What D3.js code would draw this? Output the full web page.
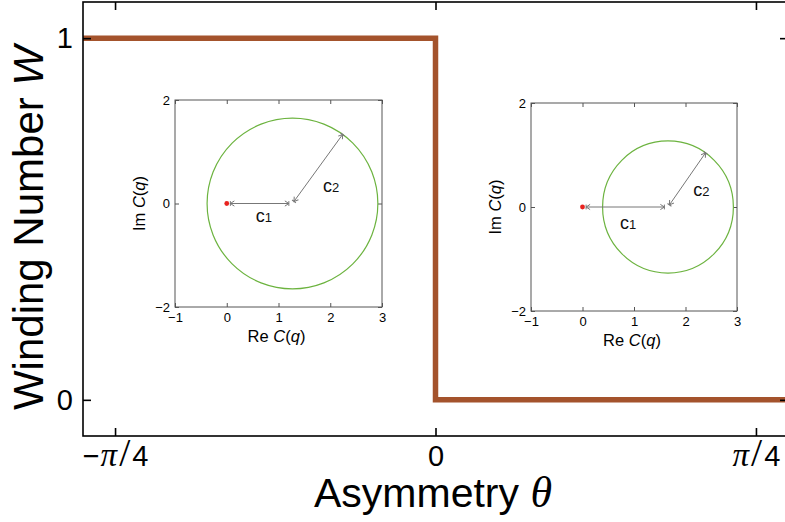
<!DOCTYPE html>
<html>
<head>
<meta charset="utf-8">
<script src="https://cdn.jsdelivr.net/npm/d3@7"></script>
<style>
  body { margin: 0; background: #fff; }
  svg { display: block; }
</style>
</head>
<body>
<svg id="chart" width="785" height="522"></svg>
<script>
// Step curve of the winding number against the asymmetry angle
const stepTheta = [-0.864, 0, 0, 0.864];
const windingW = [1, 1, 0, 0];
const thetaTicks = [-Math.PI / 4, 0, Math.PI / 4];
const wTicks = [0, 1];

// Inset curves C(q) in the complex plane: circle centre on the real axis, radius, c2 direction (deg)
const insetCenterRe = [1.27, 1.66];
const insetRadius = [1.65, 1.27];
const insetC2Angle = [54, 55];
const reTicks = [-1, 0, 1, 2, 3];
const imTicks = [-2, 0, 2];

const svg = d3.select("#chart");
const sans = "'Liberation Sans', Arial, Helvetica, sans-serif";
const serif = "'Liberation Serif', 'Times New Roman', serif";

// ---------- main panel ----------
const frame = { left: 83, top: 2, right: 788, bottom: 436 };
const x = d3.scaleLinear().domain([-1.1 * Math.PI / 4, 1.1 * Math.PI / 4]).range([frame.left, frame.right]);
const y = d3.scaleLinear().domain([-0.1, 1.1]).range([frame.bottom, frame.top]);

const defs = svg.append("defs");
defs.append("clipPath").attr("id", "mainClip")
  .append("rect").attr("x", frame.left).attr("y", frame.top)
  .attr("width", frame.right - frame.left).attr("height", frame.bottom - frame.top);

const stepLine = d3.line().x(d => x(d[0])).y(d => y(d[1]));
svg.append("path")
  .datum(stepTheta.map((t, i) => [t, windingW[i]]))
  .attr("clip-path", "url(#mainClip)")
  .attr("d", stepLine)
  .attr("fill", "none")
  .attr("stroke", "#a4532c")
  .attr("stroke-width", 5.5)
  .attr("stroke-linejoin", "miter");

// Inward ticks on all four sides
const tickLen = 8;
const axB = svg.append("g").attr("transform", `translate(0,${frame.bottom})`)
  .call(d3.axisBottom(x).tickValues(thetaTicks).tickSize(-tickLen).tickPadding(10).tickFormat(""));
const axT = svg.append("g").attr("transform", `translate(0,${frame.top})`)
  .call(d3.axisTop(x).tickValues(thetaTicks).tickSize(-tickLen).tickFormat(""));
const axL = svg.append("g").attr("transform", `translate(${frame.left},0)`)
  .call(d3.axisLeft(y).tickValues(wTicks).tickSize(-tickLen).tickPadding(10).tickFormat(d3.format("d")));
const axR = svg.append("g").attr("transform", `translate(${frame.right},0)`)
  .call(d3.axisRight(y).tickValues(wTicks).tickSize(-tickLen).tickFormat(""));
[axB, axT, axL, axR].forEach(g => {
  g.select(".domain").remove();
  g.selectAll(".tick line").attr("stroke", "#000").attr("stroke-width", 1.6);
});
axL.selectAll(".tick text").attr("font-family", sans).attr("font-size", 29).attr("fill", "#000");

// theta tick labels with math glyphs: [text, font, style, size, dx]
const thetaLabelParts = [
  [["−", sans, "normal", 29, 0], ["π", serif, "italic", 33, 1], ["/", serif, "normal", 40, 2], ["4", sans, "normal", 29, 2]],
  [["0", sans, "normal", 29, 0]],
  [["π", serif, "italic", 33, 0], ["/", serif, "normal", 40, 2], ["4", sans, "normal", 29, 2]]
];
axB.selectAll(".tick").each(function (d, i) {
  const t = d3.select(this).select("text")
    .attr("font-size", 29).attr("fill", "#000").attr("dy", "0.7em").attr("font-family", sans);
  thetaLabelParts[i].forEach(p => {
    t.append("tspan").attr("font-family", p[1]).attr("font-style", p[2])
      .attr("font-size", p[3]).attr("dx", p[4]).text(p[0]);
  });
});

svg.append("rect")
  .attr("x", frame.left).attr("y", frame.top)
  .attr("width", frame.right - frame.left).attr("height", frame.bottom - frame.top)
  .attr("fill", "none").attr("stroke", "#000").attr("stroke-width", 1.6);

// Axis titles
const yTitle = svg.append("text")
  .attr("transform", "translate(43,228) rotate(-90)")
  .attr("text-anchor", "middle").attr("font-family", sans).attr("font-size", 42).attr("fill", "#000");
yTitle.append("tspan").text("Winding Number ");
yTitle.append("tspan").attr("font-style", "italic").text("W");

const xTitle = svg.append("text")
  .attr("x", 433).attr("y", 507)
  .attr("text-anchor", "middle").attr("font-family", sans).attr("font-size", 41).attr("fill", "#000");
xTitle.append("tspan").text("Asymmetry ");
xTitle.append("tspan").attr("font-family", serif).attr("font-style", "italic").attr("font-size", 44).text("θ");

// ---------- insets ----------
defs.append("marker").attr("id", "head").attr("viewBox", "-6 -4 8 8")
  .attr("markerWidth", 8).attr("markerHeight", 8).attr("refX", 0).attr("refY", 0)
  .attr("orient", "auto-start-reverse").attr("markerUnits", "userSpaceOnUse")
  .append("path").attr("d", "M-4,-2.6 L0,0 L-4,2.6 M0,-2.4 L0,2.4")
  .attr("fill", "none").attr("stroke", "#777").attr("stroke-width", 1);

const insetBoxes = [
  { left: 175, right: 382, top: 100, bottom: 307, c1: [0.56, -0.36], c2: [1.86, 0.22] },
  { left: 531, right: 737, top: 103, bottom: 311, c1: [0.73, -0.42], c2: [2.15, 0.21] }
];

const signed = d => d < 0 ? "−" + Math.abs(d) : String(d);

insetBoxes.forEach((box, k) => {
  const g = svg.append("g");
  const ix = d3.scaleLinear().domain([-1, 3]).range([box.left, box.right]);
  const iy = d3.scaleLinear().domain([-2, 2]).range([box.bottom, box.top]);
  const cx = insetCenterRe[k], r = insetRadius[k], ang = insetC2Angle[k] * Math.PI / 180;

  // ticks, labelled on the bottom and left only
  const tl = 4;
  const gb = g.append("g").attr("transform", `translate(0,${box.bottom})`)
    .call(d3.axisBottom(ix).tickValues(reTicks).tickSize(-tl).tickPadding(6).tickFormat(signed));
  const gt = g.append("g").attr("transform", `translate(0,${box.top})`)
    .call(d3.axisTop(ix).tickValues(reTicks).tickSize(-tl).tickFormat(""));
  const gl = g.append("g").attr("transform", `translate(${box.left},0)`)
    .call(d3.axisLeft(iy).tickValues(imTicks).tickSize(-tl).tickPadding(5).tickFormat(signed));
  const gr = g.append("g").attr("transform", `translate(${box.right},0)`)
    .call(d3.axisRight(iy).tickValues(imTicks).tickSize(-tl).tickFormat(""));
  [gb, gt, gl, gr].forEach(a => {
    a.select(".domain").remove();
    a.selectAll(".tick line").attr("stroke", "#555").attr("stroke-width", 1);
    a.selectAll(".tick text").attr("font-family", sans).attr("font-size", 13).attr("fill", "#000");
  });
  gt.selectAll(".tick text").remove();
  gr.selectAll(".tick text").remove();

  g.append("rect").attr("x", box.left).attr("y", box.top)
    .attr("width", box.right - box.left).attr("height", box.bottom - box.top)
    .attr("fill", "none").attr("stroke", "#555").attr("stroke-width", 1);

  // curve C(q)
  g.append("ellipse")
    .attr("cx", ix(cx)).attr("cy", iy(0))
    .attr("rx", ix(cx + r) - ix(cx)).attr("ry", iy(0) - iy(r))
    .attr("fill", "none").attr("stroke", "#6cb33f").attr("stroke-width", 1.2);

  // c1 arrow: origin to centre
  g.append("line")
    .attr("x1", ix(0.07)).attr("y1", iy(0)).attr("x2", ix(cx - 0.07)).attr("y2", iy(0))
    .attr("stroke", "#777").attr("stroke-width", 1)
    .attr("marker-start", "url(#head)").attr("marker-end", "url(#head)");
  // c2 arrow: centre to circle
  g.append("line")
    .attr("x1", ix(cx + 0.05 * Math.cos(ang))).attr("y1", iy(0.05 * Math.sin(ang)))
    .attr("x2", ix(cx + r * Math.cos(ang))).attr("y2", iy(r * Math.sin(ang)))
    .attr("stroke", "#777").attr("stroke-width", 1)
    .attr("marker-start", "url(#head)").attr("marker-end", "url(#head)");

  // origin
  g.append("circle").attr("cx", ix(0)).attr("cy", iy(0)).attr("r", 2.4).attr("fill", "#e8231f");

  // labels
  [["1", box.c1], ["2", box.c2]].forEach(([sub, p]) => {
    const t = g.append("text").attr("x", ix(p[0])).attr("y", iy(p[1]))
      .attr("font-family", sans).attr("font-size", 18).attr("fill", "#111");
    t.append("tspan").text("c");
    t.append("tspan").attr("font-size", 13).text(sub);
  });

  const xl = g.append("text").attr("x", (box.left + box.right) / 2 - 2).attr("y", box.bottom + 35)
    .attr("text-anchor", "middle").attr("font-family", sans).attr("font-size", 16.5).attr("fill", "#000");
  xl.append("tspan").text("Re ");
  xl.append("tspan").attr("font-style", "italic").text("C");
  xl.append("tspan").text("(");
  xl.append("tspan").attr("font-style", "italic").text("q");
  xl.append("tspan").text(")");

  const yl = g.append("text")
    .attr("transform", `translate(${box.left - 30},${(box.top + box.bottom) / 2}) rotate(-90)`)
    .attr("text-anchor", "middle").attr("font-family", sans).attr("font-size", 16.5).attr("fill", "#000");
  yl.append("tspan").text("Im ");
  yl.append("tspan").attr("font-style", "italic").text("C");
  yl.append("tspan").text("(");
  yl.append("tspan").attr("font-style", "italic").text("q");
  yl.append("tspan").text(")");
});
</script>
</body>
</html>
